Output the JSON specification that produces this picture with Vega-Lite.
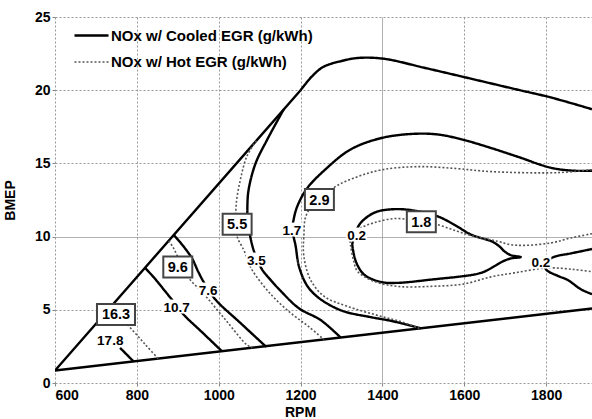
{
  "$schema": "https://vega.github.io/schema/vega-lite/v6.json",
  "width": 537,
  "height": 366,
  "autosize": {"type": "none"},
  "padding": {"left": 55, "top": 17, "right": 0, "bottom": 36},
  "background": "white",
  "config": {
    "view": {"stroke": null},
    "font": "Liberation Sans",
    "axis": {
      "labelFont": "Liberation Sans", "labelFontWeight": "bold", "labelFontSize": 14, "labelColor": "#000",
      "titleFont": "Liberation Sans", "titleFontWeight": "bold", "titleFontSize": 14, "titleColor": "#000",
      "domain": false, "tickColor": "#888", "tickSize": 3, "gridColor": "#999", "gridWidth": 1, "gridOpacity": 1
    },
    "legend": {
      "labelFont": "Liberation Sans", "labelFontWeight": "bold", "labelFontSize": 15, "labelColor": "#000", "labelLimit": 0
    }
  },
  "datasets": {
    "lines": [
      {"s":"A","t":"Cooled","o":0,"x":1912,"y":5.09},{"s":"A","t":"Cooled","o":1,"x":600,"y":0.85},{"s":"A","t":"Cooled","o":2,"x":1200,"y":20.0},
      {"s":"A2","t":"Cooled","o":0,"x":1200,"y":20.0},{"s":"A2","t":"Cooled","o":1,"x":1228,"y":20.95},{"s":"A2","t":"Cooled","o":2,"x":1256,"y":21.6},{"s":"A2","t":"Cooled","o":3,"x":1298,"y":21.98},{"s":"A2","t":"Cooled","o":4,"x":1339,"y":22.2},{"s":"A2","t":"Cooled","o":5,"x":1403,"y":22.15},{"s":"A2","t":"Cooled","o":6,"x":1501,"y":21.54},{"s":"A2","t":"Cooled","o":7,"x":1599,"y":20.9},{"s":"A2","t":"Cooled","o":8,"x":1731,"y":20.03},{"s":"A2","t":"Cooled","o":9,"x":1812,"y":19.5},{"s":"A2","t":"Cooled","o":10,"x":1912,"y":18.7},
      {"s":"B","t":"Cooled","o":0,"x":1159,"y":18.7},{"s":"B","t":"Cooled","o":1,"x":1118,"y":16.6},{"s":"B","t":"Cooled","o":2,"x":1090,"y":15.0},{"s":"B","t":"Cooled","o":3,"x":1073,"y":13.2},{"s":"B","t":"Cooled","o":4,"x":1070,"y":12.0},{"s":"B","t":"Cooled","o":5,"x":1071,"y":11.0},{"s":"B","t":"Cooled","o":6,"x":1077,"y":10.0},{"s":"B","t":"Cooled","o":7,"x":1085,"y":9.1},{"s":"B","t":"Cooled","o":8,"x":1095,"y":8.4},{"s":"B","t":"Cooled","o":9,"x":1106,"y":7.75},{"s":"B","t":"Cooled","o":10,"x":1128,"y":7.0},{"s":"B","t":"Cooled","o":11,"x":1151,"y":6.3},{"s":"B","t":"Cooled","o":12,"x":1196,"y":5.1},{"s":"B","t":"Cooled","o":13,"x":1249,"y":4.3},{"s":"B","t":"Cooled","o":14,"x":1298,"y":3.1},
      {"s":"C","t":"Hot","o":0,"x":1092,"y":16.55},{"s":"C","t":"Hot","o":1,"x":1069,"y":15.5},{"s":"C","t":"Hot","o":2,"x":1053,"y":13.9},{"s":"C","t":"Hot","o":3,"x":1043,"y":12.3},{"s":"C","t":"Hot","o":4,"x":1042,"y":11.0},{"s":"C","t":"Hot","o":5,"x":1045,"y":10.0},{"s":"C","t":"Hot","o":6,"x":1061,"y":9.1},{"s":"C","t":"Hot","o":7,"x":1070,"y":8.5},{"s":"C","t":"Hot","o":8,"x":1081,"y":7.75},{"s":"C","t":"Hot","o":9,"x":1126,"y":6.1},{"s":"C","t":"Hot","o":10,"x":1175,"y":4.8},{"s":"C","t":"Hot","o":11,"x":1220,"y":3.85},{"s":"C","t":"Hot","o":12,"x":1257,"y":2.97},
      {"s":"D","t":"Cooled","o":0,"x":889,"y":10.15},{"s":"D","t":"Cooled","o":1,"x":912,"y":9.4},{"s":"D","t":"Cooled","o":2,"x":935,"y":8.5},{"s":"D","t":"Cooled","o":3,"x":950,"y":7.6},{"s":"D","t":"Cooled","o":4,"x":967,"y":6.72},{"s":"D","t":"Cooled","o":5,"x":992,"y":5.7},{"s":"D","t":"Cooled","o":6,"x":1053,"y":4.1},{"s":"D","t":"Cooled","o":7,"x":1116,"y":2.47},
      {"s":"E","t":"Hot","o":0,"x":878,"y":9.72},{"s":"E","t":"Hot","o":1,"x":890,"y":9.2},{"s":"E","t":"Hot","o":2,"x":905,"y":8.3},{"s":"E","t":"Hot","o":3,"x":926,"y":7.2},{"s":"E","t":"Hot","o":4,"x":963,"y":6.1},{"s":"E","t":"Hot","o":5,"x":1020,"y":4.2},{"s":"E","t":"Hot","o":6,"x":1069,"y":2.6},{"s":"E","t":"Hot","o":7,"x":1082,"y":2.41},
      {"s":"F","t":"Cooled","o":0,"x":820,"y":7.87},{"s":"F","t":"Cooled","o":1,"x":845,"y":7.1},{"s":"F","t":"Cooled","o":2,"x":869,"y":6.27},{"s":"F","t":"Cooled","o":3,"x":897,"y":5.3},{"s":"F","t":"Cooled","o":4,"x":914,"y":4.68},{"s":"F","t":"Cooled","o":5,"x":960,"y":3.45},{"s":"F","t":"Cooled","o":6,"x":1008,"y":2.17},
      {"s":"G","t":"Hot","o":0,"x":735,"y":5.15},{"s":"G","t":"Hot","o":1,"x":778,"y":3.95},{"s":"G","t":"Hot","o":2,"x":820,"y":2.65},{"s":"G","t":"Hot","o":3,"x":852,"y":1.66},
      {"s":"H","t":"Cooled","o":0,"x":759,"y":2.4},{"s":"H","t":"Cooled","o":1,"x":792,"y":1.47},
      {"s":"I","t":"Cooled","o":0,"x":1912,"y":14.5},{"s":"I","t":"Cooled","o":1,"x":1868,"y":14.5},{"s":"I","t":"Cooled","o":2,"x":1812,"y":14.7},{"s":"I","t":"Cooled","o":3,"x":1731,"y":15.45},{"s":"I","t":"Cooled","o":4,"x":1660,"y":16.1},{"s":"I","t":"Cooled","o":5,"x":1599,"y":16.6},{"s":"I","t":"Cooled","o":6,"x":1542,"y":16.95},{"s":"I","t":"Cooled","o":7,"x":1486,"y":17.03},{"s":"I","t":"Cooled","o":8,"x":1400,"y":16.75},{"s":"I","t":"Cooled","o":9,"x":1322,"y":15.95},{"s":"I","t":"Cooled","o":10,"x":1261,"y":14.6},{"s":"I","t":"Cooled","o":11,"x":1216,"y":13.3},{"s":"I","t":"Cooled","o":12,"x":1192,"y":12.07},{"s":"I","t":"Cooled","o":13,"x":1183,"y":11.16},{"s":"I","t":"Cooled","o":14,"x":1180,"y":10.5},{"s":"I","t":"Cooled","o":15,"x":1188,"y":9.34},{"s":"I","t":"Cooled","o":16,"x":1196,"y":7.97},{"s":"I","t":"Cooled","o":17,"x":1216,"y":6.65},{"s":"I","t":"Cooled","o":18,"x":1245,"y":5.8},{"s":"I","t":"Cooled","o":19,"x":1300,"y":4.95},{"s":"I","t":"Cooled","o":20,"x":1371,"y":4.5},{"s":"I","t":"Cooled","o":21,"x":1420,"y":4.25},{"s":"I","t":"Cooled","o":22,"x":1494,"y":3.74},
      {"s":"J","t":"Hot","o":0,"x":1912,"y":14.57},{"s":"J","t":"Hot","o":1,"x":1829,"y":14.37},{"s":"J","t":"Hot","o":2,"x":1665,"y":14.44},{"s":"J","t":"Hot","o":3,"x":1580,"y":14.65},{"s":"J","t":"Hot","o":4,"x":1486,"y":14.78},{"s":"J","t":"Hot","o":5,"x":1400,"y":14.57},{"s":"J","t":"Hot","o":6,"x":1340,"y":14.1},{"s":"J","t":"Hot","o":7,"x":1281,"y":13.34},{"s":"J","t":"Hot","o":8,"x":1216,"y":11.6},{"s":"J","t":"Hot","o":9,"x":1208,"y":10.0},{"s":"J","t":"Hot","o":10,"x":1208,"y":8.66},{"s":"J","t":"Hot","o":11,"x":1224,"y":7.07},{"s":"J","t":"Hot","o":12,"x":1257,"y":5.93},{"s":"J","t":"Hot","o":13,"x":1314,"y":5.24},{"s":"J","t":"Hot","o":14,"x":1396,"y":4.56},{"s":"J","t":"Hot","o":15,"x":1450,"y":4.15},{"s":"J","t":"Hot","o":16,"x":1490,"y":3.73},
      {"s":"K","t":"Cooled","o":0,"x":1326,"y":9.45},{"s":"K","t":"Cooled","o":1,"x":1335,"y":8.31},{"s":"K","t":"Cooled","o":2,"x":1355,"y":7.41},{"s":"K","t":"Cooled","o":3,"x":1396,"y":6.9},{"s":"K","t":"Cooled","o":4,"x":1436,"y":6.84},{"s":"K","t":"Cooled","o":5,"x":1518,"y":7.06},{"s":"K","t":"Cooled","o":6,"x":1624,"y":7.41},{"s":"K","t":"Cooled","o":7,"x":1650,"y":7.62},{"s":"K","t":"Cooled","o":8,"x":1673,"y":7.97},{"s":"K","t":"Cooled","o":9,"x":1690,"y":8.25},{"s":"K","t":"Cooled","o":10,"x":1712,"y":8.5},{"s":"K","t":"Cooled","o":11,"x":1738,"y":8.6},{"s":"K","t":"Cooled","o":12,"x":1715,"y":8.72},{"s":"K","t":"Cooled","o":13,"x":1700,"y":8.95},{"s":"K","t":"Cooled","o":14,"x":1685,"y":9.35},{"s":"K","t":"Cooled","o":15,"x":1665,"y":9.7},{"s":"K","t":"Cooled","o":16,"x":1640,"y":9.91},{"s":"K","t":"Cooled","o":17,"x":1616,"y":10.14},{"s":"K","t":"Cooled","o":18,"x":1575,"y":10.82},{"s":"K","t":"Cooled","o":19,"x":1534,"y":11.39},{"s":"K","t":"Cooled","o":20,"x":1461,"y":11.84},{"s":"K","t":"Cooled","o":21,"x":1412,"y":11.84},{"s":"K","t":"Cooled","o":22,"x":1379,"y":11.62},{"s":"K","t":"Cooled","o":23,"x":1347,"y":10.94},{"s":"K","t":"Cooled","o":24,"x":1333,"y":10.2},{"s":"K","t":"Cooled","o":25,"x":1326,"y":9.45},
      {"s":"L","t":"Hot","o":0,"x":1912,"y":10.2},{"s":"L","t":"Hot","o":1,"x":1861,"y":9.91},{"s":"L","t":"Hot","o":2,"x":1812,"y":9.57},{"s":"L","t":"Hot","o":3,"x":1746,"y":9.4},{"s":"L","t":"Hot","o":4,"x":1714,"y":9.45},{"s":"L","t":"Hot","o":5,"x":1681,"y":9.68},{"s":"L","t":"Hot","o":6,"x":1624,"y":10.02},{"s":"L","t":"Hot","o":7,"x":1583,"y":10.36},{"s":"L","t":"Hot","o":8,"x":1534,"y":10.82},{"s":"L","t":"Hot","o":9,"x":1480,"y":11.1},{"s":"L","t":"Hot","o":10,"x":1428,"y":11.23},{"s":"L","t":"Hot","o":11,"x":1379,"y":10.94},{"s":"L","t":"Hot","o":12,"x":1347,"y":10.6},{"s":"L","t":"Hot","o":13,"x":1322,"y":10.14},{"s":"L","t":"Hot","o":14,"x":1322,"y":9.45},{"s":"L","t":"Hot","o":15,"x":1330,"y":8.31},{"s":"L","t":"Hot","o":16,"x":1339,"y":7.63},{"s":"L","t":"Hot","o":17,"x":1379,"y":6.95},{"s":"L","t":"Hot","o":18,"x":1436,"y":6.6},{"s":"L","t":"Hot","o":19,"x":1518,"y":6.6},{"s":"L","t":"Hot","o":20,"x":1600,"y":6.77},{"s":"L","t":"Hot","o":21,"x":1665,"y":7.25},{"s":"L","t":"Hot","o":22,"x":1722,"y":7.52},{"s":"L","t":"Hot","o":23,"x":1804,"y":7.86},{"s":"L","t":"Hot","o":24,"x":1869,"y":7.75},{"s":"L","t":"Hot","o":25,"x":1912,"y":7.6},
      {"s":"M","t":"Cooled","o":0,"x":1912,"y":9.15},{"s":"M","t":"Cooled","o":1,"x":1860,"y":8.85},{"s":"M","t":"Cooled","o":2,"x":1818,"y":8.6},{"s":"M","t":"Cooled","o":3,"x":1797,"y":8.2},{"s":"M","t":"Cooled","o":4,"x":1800,"y":7.75},{"s":"M","t":"Cooled","o":5,"x":1830,"y":7.3},{"s":"M","t":"Cooled","o":6,"x":1852,"y":7.05},{"s":"M","t":"Cooled","o":7,"x":1885,"y":6.4},{"s":"M","t":"Cooled","o":8,"x":1912,"y":6.07}
    ],
    "labels": [
      {"label":"16.3","x":749,"y":4.68,"boxed":true},
      {"label":"9.6","x":900,"y":7.92,"boxed":true},
      {"label":"5.5","x":1045,"y":10.84,"boxed":true},
      {"label":"2.9","x":1246,"y":12.53,"boxed":true},
      {"label":"1.8","x":1495,"y":11.02,"boxed":true},
      {"label":"17.8","x":735,"y":2.97,"boxed":false},
      {"label":"10.7","x":897,"y":5.22,"boxed":false},
      {"label":"7.6","x":974,"y":6.38,"boxed":false},
      {"label":"3.5","x":1092,"y":8.43,"boxed":false},
      {"label":"1.7","x":1179,"y":10.48,"boxed":false},
      {"label":"0.2","x":1337,"y":10.14,"boxed":false},
      {"label":"0.2","x":1787,"y":8.29,"boxed":false}
    ]
  },
  "encoding": {
    "x": {"type": "quantitative", "scale": {"domain": [600, 1912], "nice": false, "zero": false},
      "axis": {"title": "RPM", "values": [600, 800, 1000, 1200, 1400, 1600, 1800], "format": "d", "labelPadding": 2,
        "titleX": 245, "titleY": 22, "titleAlign": "center", "titleBaseline": "top",
        "gridDash": {"condition": {"test": "datum.value === 1400", "value": [1, 0]}, "value": [2, 2]}}},
    "y": {"type": "quantitative", "scale": {"domain": [0, 25], "nice": false},
      "axis": {"title": "BMEP", "values": [0, 5, 10, 15, 20, 25], "format": "d", "labelPadding": 2,
        "titleX": -45, "titleY": 183, "titleAlign": "center", "titleBaseline": "middle", "titleFontSize": 14,
        "gridDash": {"condition": {"test": "datum.value === 10", "value": [1, 0]}, "value": [2, 2]}}}
  },
  "layer": [
    {
      "data": {"name": "lines"},
      "transform": [{"filter": "datum.s == 'A'"}],
      "mark": {"type": "line", "clip": true, "strokeCap": "butt", "strokeJoin": "round", "interpolate": "linear", "color": "#000000", "strokeWidth": 2.4},
      "encoding": {
        "x": {"field": "x", "type": "quantitative"},
        "y": {"field": "y", "type": "quantitative"},
        "detail": {"field": "s"},
        "order": {"field": "o", "type": "quantitative"}
      }
    },
    {
      "data": {"name": "lines"},
      "transform": [{"filter": "datum.s != 'A'"}],
      "mark": {"type": "line", "clip": true, "strokeCap": "butt", "strokeJoin": "round", "interpolate": "catmull-rom"},
      "encoding": {
        "x": {"field": "x", "type": "quantitative"},
        "y": {"field": "y", "type": "quantitative"},
        "detail": {"field": "s"},
        "order": {"field": "o", "type": "quantitative"},
        "color": {"field": "t", "type": "nominal", "scale": {"domain": ["Cooled", "Hot"], "range": ["#000000", "#555555"]},
          "legend": {"orient": "none", "legendX": 18, "legendY": 0, "title": null, "symbolType": "stroke", "symbolSize": 1156,
            "labelOffset": 1, "rowPadding": -6,
            "labelExpr": "datum.label == 'Cooled' ? 'NOx w/ Cooled EGR (g/kWh)' : 'NOx w/ Hot EGR (g/kWh)'"}},
        "strokeDash": {"field": "t", "type": "nominal", "scale": {"domain": ["Cooled", "Hot"], "range": [[1, 0], [2, 2]]}},
        "strokeWidth": {"field": "t", "type": "nominal", "scale": {"domain": ["Cooled", "Hot"], "range": [2.4, 1.6]}}
      }
    },
    {
      "data": {"name": "labels"},
      "transform": [{"filter": "!datum.boxed && length(datum.label) <= 3"}],
      "mark": {"type": "point", "shape": "M-1.5,-1L1.5,-1L1.5,1L-1.5,1Z", "size": 196, "filled": true, "color": "white", "opacity": 1},
      "encoding": {"x": {"field": "x", "type": "quantitative"}, "y": {"field": "y", "type": "quantitative"}}
    },
    {
      "data": {"name": "labels"},
      "transform": [{"filter": "!datum.boxed && length(datum.label) > 3"}],
      "mark": {"type": "point", "shape": "M-2,-1L2,-1L2,1L-2,1Z", "size": 196, "filled": true, "color": "white", "opacity": 1},
      "encoding": {"x": {"field": "x", "type": "quantitative"}, "y": {"field": "y", "type": "quantitative"}}
    },
    {
      "data": {"name": "labels"},
      "transform": [{"filter": "datum.boxed && length(datum.label) <= 3"}],
      "mark": {"type": "point", "shape": "M-1.38,-1L1.38,-1L1.38,1L-1.38,1Z", "size": 441, "filled": false, "fill": "white", "fillOpacity": 1, "stroke": "#444", "strokeWidth": 2, "opacity": 1},
      "encoding": {"x": {"field": "x", "type": "quantitative"}, "y": {"field": "y", "type": "quantitative"}}
    },
    {
      "data": {"name": "labels"},
      "transform": [{"filter": "datum.boxed && length(datum.label) > 3"}],
      "mark": {"type": "point", "shape": "M-1.81,-1L1.81,-1L1.81,1L-1.81,1Z", "size": 441, "filled": false, "fill": "white", "fillOpacity": 1, "stroke": "#444", "strokeWidth": 2, "opacity": 1},
      "encoding": {"x": {"field": "x", "type": "quantitative"}, "y": {"field": "y", "type": "quantitative"}}
    },
    {
      "data": {"name": "labels"},
      "mark": {"type": "text", "font": "Liberation Sans", "fontWeight": "bold", "color": "#000", "baseline": "middle", "align": "center", "dy": 1},
      "encoding": {
        "x": {"field": "x", "type": "quantitative"},
        "y": {"field": "y", "type": "quantitative"},
        "text": {"field": "label"},
        "size": {"condition": {"test": "datum.boxed", "value": 14.5}, "value": 13.5}
      }
    }
  ]
}
